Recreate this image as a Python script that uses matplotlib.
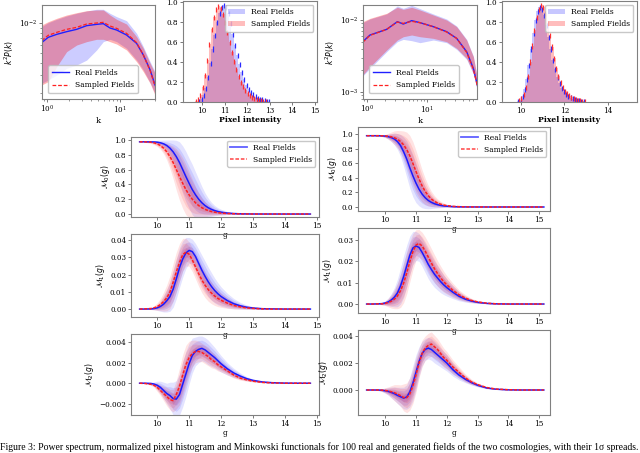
import numpy as np
import matplotlib
matplotlib.use('Agg')
import matplotlib.pyplot as plt
from matplotlib.patches import Patch
from matplotlib.lines import Line2D
from matplotlib.ticker import MultipleLocator, NullFormatter

plt.rcParams['font.family'] = ['DejaVu Serif']
plt.rcParams['mathtext.fontset'] = 'dejavusans'

# ---------------- Power spectra (top row) ----------------
ps_left_k = [0.845, 1.04, 1.36, 1.86, 2.55, 3.5, 4.79, 5.91, 7.3, 9.0, 12.3, 16.9, 20.9, 25.9, 30.2]
ps_left_real = [0.00636, 0.00719, 0.00770, 0.00819, 0.00864, 0.00941, 0.00969, 0.00985, 0.00891,
                0.00851, 0.00759, 0.00626, 0.00479, 0.00339, 0.00240]
ps_left_samp = [0.00666, 0.00753, 0.00806, 0.00864, 0.00905, 0.00977, 0.01000, 0.01015, 0.00934,
                0.00884, 0.00788, 0.00636, 0.00479, 0.00334, 0.00234]
ps_left_real_hi = [0.00919, 0.01008, 0.01088, 0.01175, 0.01250, 0.01318, 0.01371, 0.01371, 0.01250,
                   0.01157, 0.01055, 0.00788, 0.00580, 0.00410, 0.00326]
ps_left_real_lo = [0.00249, 0.00269, 0.00302, 0.00352, 0.00380, 0.00426, 0.00537, 0.00651, 0.00687,
                   0.00651, 0.00558, 0.00426, 0.00339, 0.00253, 0.00198]
ps_left_samp_hi = [0.00955, 0.01031, 0.01114, 0.01202, 0.01268, 0.01328, 0.01349, 0.01349, 0.01202,
                   0.01088, 0.00977, 0.00730, 0.00558, 0.00395, 0.00314]
ps_left_samp_lo = [0.00240, 0.00259, 0.00366, 0.00517, 0.00602, 0.00651, 0.00687, 0.00687, 0.00651,
                   0.00616, 0.00537, 0.00410, 0.00326, 0.00249, 0.00191]

ps_right_k = [0.857, 1.135, 2.15, 3.24, 4.07, 5.62, 7.73, 12.9, 21.5, 31.6, 46.4, 60.0, 70.0]
ps_right_real = [0.00499, 0.00619, 0.00742, 0.00949, 0.00880, 0.00981, 0.00920, 0.00809, 0.00689,
                 0.00556, 0.00362, 0.00212, 0.00124]
ps_right_samp = [0.00489, 0.00612, 0.00742, 0.00940, 0.00900, 0.00960, 0.00920, 0.00809, 0.00682,
                 0.00556, 0.00355, 0.00208, 0.00120]
ps_right_real_hi = [0.00920, 0.01035, 0.01216, 0.01571, 0.01457, 0.01605, 0.01442, 0.01216, 0.01035,
                    0.00826, 0.00538, 0.00315, 0.00159]
ps_right_real_lo = [0.00166, 0.00212, 0.00362, 0.00499, 0.00538, 0.00516, 0.00484, 0.00527, 0.00484,
                    0.00390, 0.00283, 0.00177, 0.00103]
ps_right_samp_hi = [0.00949, 0.01057, 0.01242, 0.01506, 0.01412, 0.01506, 0.01381, 0.01177, 0.01002,
                    0.00809, 0.00527, 0.00308, 0.00154]
ps_right_samp_lo = [0.00171, 0.00224, 0.00382, 0.00527, 0.00586, 0.00619, 0.00586, 0.00556, 0.00499,
                    0.00403, 0.00292, 0.00181, 0.00106]

# ---------------- Pixel histograms ----------------
hist_x = [9.65, 9.75, 9.85, 9.95, 10.05, 10.15, 10.25, 10.35, 10.45, 10.55,
          10.65, 10.75, 10.85, 10.95, 11.05, 11.15, 11.25, 11.35, 11.45, 11.55,
          11.65, 11.75, 11.85, 11.95, 12.05, 12.15, 12.25, 12.35, 12.45, 12.55,
          12.65, 12.75, 12.85, 12.95, 13.05, 13.15, 13.25, 13.35, 13.45]
hist_left_real = [0, 0.003, 0.01, 0.03, 0.07, 0.14, 0.25, 0.39, 0.53, 0.67,
                  0.8, 0.89, 0.95, 0.97, 0.95, 0.89, 0.79, 0.68, 0.57, 0.47,
                  0.38, 0.3, 0.23, 0.17, 0.13, 0.1, 0.075, 0.055, 0.04, 0.03,
                  0.022, 0.015, 0.01, 0.007, 0.004, 0.003, 0.002, 0.001, 0]
hist_left_samp = [0, 0.008, 0.03, 0.07, 0.15, 0.27, 0.42, 0.58, 0.73, 0.85,
                  0.93, 0.96, 0.94, 0.88, 0.8, 0.7, 0.6, 0.5, 0.41, 0.33,
                  0.26, 0.2, 0.155, 0.12, 0.09, 0.068, 0.05, 0.037, 0.027, 0.02,
                  0.014, 0.01, 0.007, 0.005, 0.003, 0.002, 0.001, 0, 0]
hist_right_real = [0, 0.002, 0.008, 0.025, 0.06, 0.13, 0.23, 0.37, 0.53, 0.69,
                   0.82, 0.91, 0.95, 0.93, 0.87, 0.77, 0.65, 0.53, 0.42, 0.33,
                   0.25, 0.19, 0.14, 0.105, 0.078, 0.058, 0.043, 0.032, 0.024, 0.018,
                   0.013, 0.009, 0.006, 0.004, 0.003, 0.002, 0.001, 0.001, 0]
hist_right_samp = [0, 0.001, 0.004, 0.012, 0.035, 0.08, 0.15, 0.26, 0.4, 0.56,
                   0.72, 0.85, 0.93, 0.97, 0.95, 0.89, 0.79, 0.67, 0.55, 0.44,
                   0.34, 0.26, 0.2, 0.15, 0.11, 0.083, 0.062, 0.046, 0.034, 0.025,
                   0.018, 0.013, 0.009, 0.006, 0.004, 0.003, 0.002, 0.001, 0]
hist_err = 0.025

# ---------------- Minkowski functionals ----------------
g_left = [9.45, 9.6, 9.8, 9.9, 10.0, 10.1, 10.2, 10.3, 10.4, 10.5, 10.6, 10.7, 10.8, 10.9, 11.0,
          11.1, 11.2, 11.3, 11.4, 11.5, 11.6, 11.7, 11.8, 11.9, 12.0, 12.2, 12.4, 12.6, 12.8,
          13.0, 13.3, 13.6, 14.0, 14.4, 14.8]
g_right = [9.4, 9.6, 9.8, 9.9, 10.0, 10.1, 10.2, 10.3, 10.4, 10.5, 10.6, 10.7, 10.8, 10.9, 11.0,
           11.1, 11.2, 11.3, 11.4, 11.5, 11.6, 11.7, 11.8, 11.9, 12.0, 12.2, 12.4, 12.6, 12.8,
           13.0, 13.3, 13.6, 14.0, 14.4, 15.15]

m0_left_real = [0.975, 0.975, 0.974, 0.973, 0.97, 0.962, 0.948, 0.925, 0.89, 0.84, 0.775, 0.695,
                0.60, 0.505, 0.415, 0.33, 0.26, 0.2, 0.152, 0.114, 0.085, 0.063, 0.046, 0.034,
                0.025, 0.013, 0.0065, 0.0032, 0.0015, 0.0007, 0.0002, 0.0001, 0, 0, 0]
m0_left_samp = [0.975, 0.974, 0.97, 0.962, 0.948, 0.925, 0.89, 0.84, 0.775, 0.695, 0.60, 0.505,
                0.415, 0.33, 0.26, 0.2, 0.152, 0.114, 0.085, 0.063, 0.046, 0.034, 0.025, 0.019,
                0.013, 0.0075, 0.004, 0.002, 0.001, 0.0004, 0.0001, 0, 0, 0, 0]
m0_left_real_sd = [0, 0, 0.01, 0.015, 0.025, 0.035, 0.05, 0.075, 0.11, 0.16, 0.22, 0.28, 0.32, 0.34,
                   0.34, 0.34, 0.31, 0.27, 0.22, 0.17, 0.13, 0.095, 0.07, 0.052, 0.04, 0.022,
                   0.012, 0.006, 0.003, 0.0015, 0.0005, 0, 0, 0, 0]
m0_left_samp_sd = [0, 0.005, 0.015, 0.025, 0.035, 0.05, 0.075, 0.11, 0.16, 0.22, 0.28, 0.32, 0.34,
                   0.34, 0.31, 0.27, 0.22, 0.17, 0.13, 0.1, 0.075, 0.055, 0.042, 0.032, 0.024,
                   0.013, 0.007, 0.0035, 0.0017, 0.0008, 0.0003, 0, 0, 0, 0]

m0_right_real = [0.98, 0.98, 0.98, 0.978, 0.975, 0.968, 0.955, 0.935, 0.90, 0.845, 0.76, 0.66,
                 0.54, 0.43, 0.33, 0.245, 0.178, 0.128, 0.09, 0.064, 0.045, 0.032, 0.022, 0.015,
                 0.011, 0.005, 0.0025, 0.0012, 0.0006, 0.0003, 0.0001, 0, 0, 0, 0]
m0_right_samp = [0.98, 0.98, 0.98, 0.979, 0.977, 0.973, 0.965, 0.952, 0.932, 0.90, 0.855, 0.79,
                 0.705, 0.60, 0.49, 0.385, 0.29, 0.215, 0.155, 0.11, 0.078, 0.055, 0.038, 0.027,
                 0.019, 0.009, 0.0045, 0.002, 0.001, 0.0005, 0.0002, 0, 0, 0, 0]
m0_right_real_sd = [0, 0, 0.005, 0.01, 0.02, 0.035, 0.055, 0.08, 0.11, 0.15, 0.2, 0.25, 0.28, 0.29,
                    0.27, 0.23, 0.19, 0.15, 0.115, 0.085, 0.062, 0.045, 0.032, 0.022, 0.015, 0.008,
                    0.004, 0.002, 0.001, 0.0005, 0, 0, 0, 0, 0]
m0_right_samp_sd = [0, 0, 0.005, 0.01, 0.02, 0.04, 0.065, 0.095, 0.12, 0.15, 0.19, 0.24, 0.28, 0.3,
                    0.29, 0.26, 0.22, 0.18, 0.14, 0.105, 0.078, 0.057, 0.041, 0.029, 0.02, 0.01,
                    0.005, 0.0025, 0.0012, 0.0006, 0.0002, 0, 0, 0, 0]

m1_left_real = [0, 0, 0.0001, 0.0003, 0.0007, 0.0015, 0.0028, 0.0048, 0.0072, 0.0115, 0.0175,
                0.024, 0.029, 0.0325, 0.034, 0.0333, 0.0305, 0.0265, 0.0225, 0.019, 0.0158,
                0.0131, 0.0108, 0.0089, 0.0073, 0.0049, 0.0031, 0.0019, 0.0011, 0.0006, 0.0002,
                0.0001, 0, 0, 0]
m1_left_samp = [0, 0.0001, 0.0003, 0.0007, 0.0014, 0.0026, 0.0043, 0.0065, 0.0098, 0.0155, 0.0215,
                0.027, 0.0315, 0.033, 0.0318, 0.0285, 0.0245, 0.0205, 0.0168, 0.0138, 0.0113,
                0.0093, 0.0076, 0.0062, 0.0051, 0.0034, 0.0021, 0.0013, 0.0007, 0.0004, 0.0001,
                0, 0, 0, 0]
m1_left_real_sd = [0, 0, 0.0003, 0.0007, 0.0015, 0.0028, 0.0045, 0.0065, 0.0085, 0.0105, 0.0115,
                   0.0115, 0.0105, 0.009, 0.0075, 0.0072, 0.0075, 0.0082, 0.0087, 0.0088, 0.0085,
                   0.008, 0.0072, 0.0064, 0.0056, 0.0042, 0.003, 0.002, 0.0013, 0.0008, 0.0003,
                   0.0001, 0, 0, 0]
m1_left_samp_sd = [0, 0.0001, 0.0006, 0.0012, 0.0022, 0.0035, 0.0055, 0.0075, 0.0095, 0.011, 0.0115,
                   0.011, 0.0095, 0.008, 0.007, 0.0068, 0.007, 0.0073, 0.0074, 0.0072, 0.0068,
                   0.0062, 0.0055, 0.0048, 0.0041, 0.003, 0.002, 0.0013, 0.0008, 0.0005, 0.0002,
                   0, 0, 0, 0]

m1_right_real = [0, 0, 0.0001, 0.0002, 0.0005, 0.001, 0.0019, 0.0032, 0.0052, 0.0085, 0.0128,
                 0.0178, 0.0228, 0.0262, 0.0272, 0.0265, 0.0242, 0.0215, 0.0186, 0.0162, 0.014,
                 0.0122, 0.0105, 0.009, 0.0077, 0.0055, 0.0036, 0.0023, 0.0014, 0.0008, 0.0003,
                 0.0001, 0, 0, 0]
m1_right_samp = [0, 0, 0.0001, 0.0001, 0.0003, 0.0007, 0.0013, 0.0023, 0.0038, 0.0062, 0.0098,
                 0.0145, 0.0198, 0.0245, 0.0276, 0.0284, 0.0272, 0.0248, 0.022, 0.0192, 0.0166,
                 0.0143, 0.0123, 0.0105, 0.009, 0.0064, 0.0043, 0.0028, 0.0017, 0.001, 0.0004,
                 0.0001, 0, 0, 0]
m1_right_real_sd = [0, 0, 0.0002, 0.0005, 0.001, 0.0018, 0.003, 0.0045, 0.0065, 0.0085, 0.0098,
                    0.0098, 0.009, 0.0078, 0.0068, 0.0065, 0.0066, 0.0068, 0.0068, 0.0066, 0.0062,
                    0.0057, 0.0052, 0.0046, 0.004, 0.003, 0.0021, 0.0014, 0.0009, 0.0005, 0.0002,
                    0.0001, 0, 0, 0]
m1_right_samp_sd = [0, 0, 0.0002, 0.0005, 0.001, 0.002, 0.0032, 0.0045, 0.006, 0.0078, 0.0092,
                    0.0098, 0.0095, 0.0085, 0.0072, 0.0065, 0.0064, 0.0066, 0.0068, 0.0068, 0.0065,
                    0.006, 0.0055, 0.0049, 0.0043, 0.0033, 0.0023, 0.0016, 0.001, 0.0006, 0.0002,
                    0.0001, 0, 0, 0]

m2_left_real = [0, 0, -0.00002, -0.00008, -0.0002, -0.0004, -0.0007, -0.001, -0.0012, -0.0015,
                -0.00155, -0.0011, -0.0001, 0.0009, 0.0019, 0.0027, 0.0031, 0.0033, 0.0034,
                0.00325, 0.003, 0.00275, 0.0025, 0.0022, 0.0019, 0.0014, 0.001, 0.0007, 0.00045,
                0.00028, 0.00012, 0.00005, 0.00001, 0, 0]
m2_left_samp = [0, -0.00002, -0.0001, -0.0002, -0.0004, -0.0007, -0.001, -0.0013, -0.0016, -0.0017,
                -0.0011, -0.0003, 0.0008, 0.0018, 0.0025, 0.0029, 0.0031, 0.0031, 0.003, 0.0028,
                0.0026, 0.0023, 0.0021, 0.0018, 0.0016, 0.0012, 0.0008, 0.0005, 0.00033, 0.0002,
                0.00008, 0.00003, 0, 0, 0]
m2_left_real_sd = [0, 0, 0.0001, 0.0002, 0.0004, 0.0006, 0.0008, 0.001, 0.0013, 0.0016, 0.0018,
                   0.002, 0.0022, 0.0022, 0.002, 0.0017, 0.0014, 0.0013, 0.0012, 0.0012, 0.0012,
                   0.0011, 0.001, 0.0009, 0.0008, 0.0006, 0.00045, 0.0003, 0.0002, 0.00012,
                   0.00006, 0.00002, 0, 0, 0]
m2_left_samp_sd = [0, 0, 0.0001, 0.0002, 0.0004, 0.0005, 0.0007, 0.0009, 0.001, 0.0011, 0.0014,
                   0.0018, 0.002, 0.0019, 0.0016, 0.0013, 0.0011, 0.001, 0.0009, 0.0009, 0.0009,
                   0.0008, 0.0007, 0.0006, 0.0005, 0.0004, 0.0003, 0.0002, 0.00013, 0.00008,
                   0.00004, 0.00001, 0, 0, 0]

m2_right_real = [0, 0, 0, -0.00002, -0.00005, -0.0001, -0.00018, -0.00027, -0.0004, -0.0005,
                 -0.0006, -0.00052, -0.00015, 0.0005, 0.0013, 0.0021, 0.0027, 0.003, 0.0031, 0.003,
                 0.0028, 0.0026, 0.0024, 0.0022, 0.002, 0.0015, 0.0011, 0.0008, 0.00055, 0.00035,
                 0.00015, 0.00006, 0.00001, 0, 0]
m2_right_samp = [0, 0, 0, -0.00001, -0.00003, -0.00007, -0.00013, -0.0002, -0.0003, -0.00042,
                 -0.00055, -0.00058, -0.0003, 0.0003, 0.0011, 0.002, 0.0027, 0.0031, 0.0033, 0.0034,
                 0.0032, 0.003, 0.0027, 0.0024, 0.0022, 0.0017, 0.0013, 0.0009, 0.0006, 0.0004,
                 0.00018, 0.00007, 0.00002, 0, 0]
m2_right_real_sd = [0, 0, 0.00005, 0.0001, 0.00018, 0.00028, 0.0004, 0.0005, 0.0006, 0.0007, 0.0008,
                    0.0009, 0.0011, 0.0013, 0.0013, 0.0011, 0.0009, 0.0008, 0.0008, 0.0008, 0.0008,
                    0.00075, 0.0007, 0.00065, 0.0006, 0.00048, 0.00036, 0.00026, 0.00018, 0.00012,
                    0.00006, 0.00002, 0, 0, 0]
m2_right_samp_sd = [0, 0, 0.00005, 0.0001, 0.0002, 0.0003, 0.00045, 0.0006, 0.0007, 0.0008, 0.001,
                    0.0011, 0.0012, 0.0013, 0.0013, 0.0011, 0.001, 0.0009, 0.0009, 0.0009, 0.00085,
                    0.0008, 0.00075, 0.0007, 0.00065, 0.00052, 0.0004, 0.0003, 0.0002, 0.00013,
                    0.00007, 0.00002, 0, 0, 0]

caption = ("Figure 3: Power spectrum, normalized pixel histogram and Minkowski functionals for "
           "100 real and generated fields of the two cosmologies, with their 1\u03c3 spreads.")

# ---------------- drawing ----------------
W, H = 640, 453
fig = plt.figure(figsize=(W / 100, H / 100), dpi=100)
SPINE = '#808080'


def ax_px(x0, y0, x1, y1):
    ax = fig.add_axes([x0 / W, 1 - y1 / H, (x1 - x0) / W, (y1 - y0) / H])
    ax.set_facecolor('none')
    return ax


def style(ax):
    for s in ax.spines.values():
        s.set_color(SPINE)
        s.set_linewidth(0.8)
    ax.tick_params(labelsize=5.2, length=2, width=0.5, pad=1.5, color='#444444')
    ax.tick_params(which='minor', length=1.2, width=0.4, color='#444444')


def ps_panel(ax, k, real, samp, rlo, rhi, slo, shi, xlim, ylim):
    ax.fill_between(k, rlo, rhi, color='#0000ff', alpha=0.2, lw=0)
    ax.fill_between(k, slo, shi, color='#ff0000', alpha=0.3, lw=0)
    ax.plot(k, real, color='#2020ff', lw=1.0, label='Real Fields')
    ax.plot(k, samp, color='#ff2020', lw=0.9, ls=(0, (3, 1.5)), label='Sampled Fields')
    ax.set_xscale('log')
    ax.set_yscale('log')
    ax.set_xlim(*xlim)
    ax.set_ylim(*ylim)
    style(ax)
    ax.yaxis.set_minor_formatter(NullFormatter())
    ax.set_xlabel('k', fontsize=6, labelpad=1)
    ax.set_ylabel(r'$k^2P(k)$', fontsize=5.5, labelpad=2)
    ax.legend(loc='lower left', fontsize=5.5, frameon=True, fancybox=True, framealpha=0.8,
              edgecolor='#bbbbbb', borderpad=0.5, handlelength=2.2, labelspacing=0.6,
              bbox_to_anchor=(0.02, 0.02))


def hist_panel(ax, real, samp, xlim, xticks):
    ax.bar(hist_x, real, width=0.1, color='#0000ff', alpha=0.22, edgecolor='none', lw=0)
    ax.bar(hist_x, samp, width=0.1, color='#ff0000', alpha=0.26, edgecolor='none', lw=0)
    xr = np.array(hist_x)
    r = np.array(real)
    s = np.array(samp)
    mr = r > 0.005
    ms = s > 0.005
    ax.errorbar(xr[mr] + 0.03, r[mr], yerr=hist_err, fmt='none', ecolor='#2a2aff', elinewidth=0.9)
    ax.errorbar(xr[ms] - 0.03, s[ms], yerr=hist_err, fmt='none', ecolor='#ff3030', elinewidth=0.9)
    ax.set_xlim(*xlim)
    ax.set_ylim(0, 1.01)
    ax.set_xticks(xticks)
    ax.yaxis.set_major_locator(MultipleLocator(0.2))
    style(ax)
    ax.set_xlabel('Pixel intensity', fontsize=5.5, fontweight='bold', labelpad=1)
    handles = [Patch(facecolor='#0000ff', alpha=0.22, edgecolor='none'),
               Patch(facecolor='#ff0000', alpha=0.26, edgecolor='none')]
    ax.legend(handles, ['Real Fields', 'Sampled Fields'], loc='upper right', fontsize=5.5,
              frameon=True, fancybox=True, framealpha=0.8, edgecolor='#bbbbbb',
              handlelength=2.2, labelspacing=0.6)


def m_panel(ax, g, real, samp, rsd, ssd, ylim, ymajor, ylabel, legend=False):
    g = np.array(g)
    real = np.array(real)
    samp = np.array(samp)
    rsd = np.array(rsd)
    ssd = np.array(ssd)
    for f in (1.0, 0.66, 0.33):
        ax.fill_between(g, real - f * rsd, real + f * rsd, color='#0000ff', alpha=0.11, lw=0)
    for f in (1.0, 0.66, 0.33):
        ax.fill_between(g, samp - f * ssd, samp + f * ssd, color='#ff0000', alpha=0.11, lw=0)
    ax.plot(g, real, color='#1a1aff', lw=1.1, label='Real Fields')
    ax.plot(g, samp, color='#ff2020', lw=1.1, ls=(0, (2, 1)), label='Sampled Fields')
    ax.set_ylim(*ylim)
    ax.xaxis.set_major_locator(MultipleLocator(1))
    ax.yaxis.set_major_locator(MultipleLocator(ymajor))
    style(ax)
    ax.set_xlabel('g', fontsize=5.5, labelpad=0.5)
    ax.set_ylabel(ylabel, fontsize=5.5, labelpad=2)
    if legend:
        handles = [Line2D([], [], color='#6060ff', lw=1.3),
                   Line2D([], [], color='#ff6060', lw=1.3, ls=(0, (2, 1)))]
        ax.legend(handles, ['Real Fields', 'Sampled Fields'], loc='upper right', fontsize=5.5,
                  frameon=True, fancybox=True, framealpha=0.8, edgecolor='#bbbbbb',
                  handlelength=2.2, labelspacing=0.5)


# top row
a = ax_px(42, 5, 155, 99)
ps_panel(a, ps_left_k, ps_left_real, ps_left_samp, ps_left_real_lo, ps_left_real_hi,
         ps_left_samp_lo, ps_left_samp_hi, (0.855, 30.2), (10 ** -2.76, 10 ** -1.82))
a = ax_px(183, 1, 317, 102)
hist_panel(a, hist_left_real, hist_left_samp, (9.15, 15.1), [10, 11, 12, 13, 14, 15])
a = ax_px(363, 5, 477, 99)
ps_panel(a, ps_right_k, ps_right_real, ps_right_samp, ps_right_real_lo, ps_right_real_hi,
         ps_right_samp_lo, ps_right_samp_hi, (0.867, 69.0), (10 ** -3.10, 10 ** -1.79))
a = ax_px(502, 1, 637, 102)
hist_panel(a, hist_right_real, hist_right_samp, (9.13, 15.33), [10, 12, 14])

# Minkowski functionals
a = ax_px(131, 137, 319, 217)
m_panel(a, g_left, m0_left_real, m0_left_samp, m0_left_real_sd, m0_left_samp_sd,
        (-0.04, 1.04), 0.2, r'$\mathcal{M}_0(g)$', legend=True)
a.set_xlim(9.18, 15.07)
a = ax_px(131, 234, 319, 317)
m_panel(a, g_left, m1_left_real, m1_left_samp, m1_left_real_sd, m1_left_samp_sd,
        (-0.0046, 0.0435), 0.01, r'$\mathcal{M}_1(g)$')
a.set_xlim(9.18, 15.07)
a = ax_px(131, 334, 319, 415)
m_panel(a, g_left, m2_left_real, m2_left_samp, m2_left_real_sd, m2_left_samp_sd,
        (-0.0031, 0.0048), 0.002, r'$\mathcal{M}_2(g)$')
a.set_xlim(9.18, 15.07)

a = ax_px(358, 127, 550, 211)
m_panel(a, g_right, m0_right_real, m0_right_samp, m0_right_real_sd, m0_right_samp_sd,
        (-0.055, 1.10), 0.2, r'$\mathcal{M}_0(g)$', legend=True)
a.set_xlim(9.12, 15.35)
a = ax_px(358, 228, 550, 313)
m_panel(a, g_right, m1_right_real, m1_right_samp, m1_right_real_sd, m1_right_samp_sd,
        (-0.0042, 0.0356), 0.01, r'$\mathcal{M}_1(g)$')
a.set_xlim(9.12, 15.35)
a = ax_px(358, 330, 550, 415)
m_panel(a, g_right, m2_right_real, m2_right_samp, m2_right_real_sd, m2_right_samp_sd,
        (-0.00185, 0.00444), 0.002, r'$\mathcal{M}_2(g)$')
a.set_xlim(9.12, 15.35)

fig.text(0.0, 1.0 / H, caption, ha='left', va='bottom', fontsize=7.0,
         family=['Liberation Serif', 'DejaVu Serif'])

fig.savefig('out.png', dpi=100)
